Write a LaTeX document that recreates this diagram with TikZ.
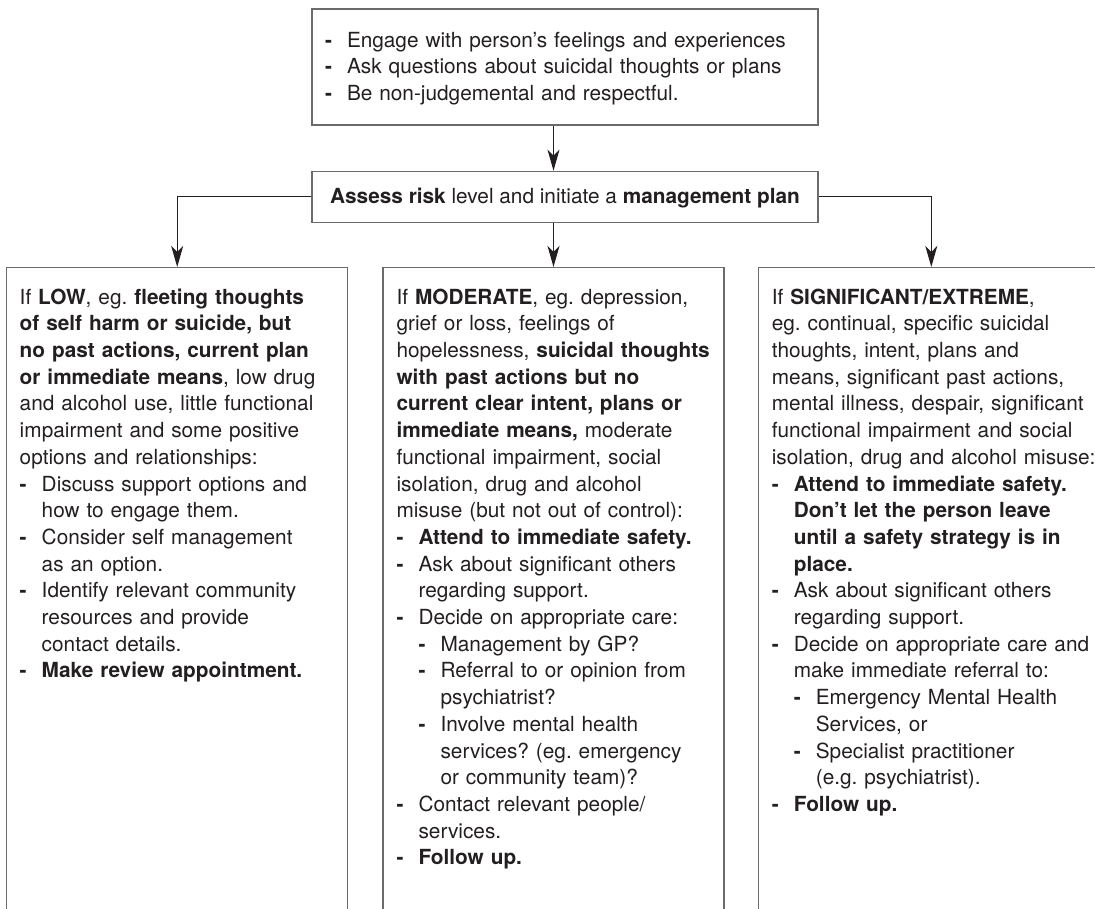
\documentclass[tikz,border=0pt]{standalone}
\usepackage{fontspec}
\setmainfont{TeX Gyre Heros}
\usetikzlibrary{arrows.meta,positioning}
\definecolor{ink}{HTML}{231F20}
\definecolor{rule}{HTML}{6B6B6B}
\newcommand{\itm}{\makebox[22pt][l]{\textbf{-}}}
\newcommand{\ind}{\hspace*{22pt}}
\frenchspacing

\begin{document}
\begin{tikzpicture}[->,>={Stealth[length=21pt,width=12pt,inset=6pt]},x=1pt,y=1pt,
    node distance=44pt,font=\fontsize{20.8}{26.7}\selectfont,text=ink]
        \tikzstyle{box}=[draw=rule,line width=1.3pt,inner sep=0pt]
        \tikzstyle{column}=[box,minimum width=341pt,minimum height=700pt]
        \tikzstyle{blurb}=[text width=420pt,align=left,inner sep=0pt,text height=13pt]
        \tikzstyle{link}=[draw=ink,line width=1.1pt]
        \useasboundingbox (0,0) rectangle (1095,-908);
        \clip (0,0) rectangle (1095,-908);

        \node[box,text width=480pt,inner xsep=13pt,align=left,text height=38pt,text depth=78pt] (top) at (565,-67)
            {\itm Engage with person’s feelings and experiences\\
             \itm Ask questions about suicidal thoughts or plans\\
             \itm Be non-judgemental and respectful.};
        \node[box,minimum width=506pt,minimum height=51pt,text height=17pt,text depth=4pt] (assess) [below=45pt of top]
            {\textbf{Assess risk} level and initiate a \textbf{management plan}};

        \node[column] (mod) [below=of assess,xshift=-11.5pt] {};
        \node[column] (low) [left=34pt of mod] {};
        \node[column,minimum width=346pt] (sig) [right=33pt of mod] {};

        \node[blurb] (lowtext) [below right=24pt and 13.5pt of low.north west]
            {If \textbf{LOW}, eg. \textbf{fleeting thoughts}\\
             \textbf{of self harm or suicide, but}\\
             \textbf{no past actions, current plan}\\
             \textbf{or immediate means}, low drug\\
             and alcohol use, little functional\\
             impairment and some positive\\
             options and relationships:\\
             \itm Discuss support options and\\
             \ind how to engage them.\\
             \itm Consider self management\\
             \ind as an option.\\
             \itm Identify relevant community\\
             \ind resources and provide\\
             \ind contact details.\\
             \itm \textbf{Make review appointment.}};
        \node[blurb] (modtext) [below right=24pt and 14pt of mod.north west]
            {If \textbf{MODERATE}, eg. depression,\\
             grief or loss, feelings of\\
             hopelessness, \textbf{suicidal thoughts}\\
             \textbf{with past actions but no}\\
             \textbf{current clear intent, plans or}\\
             \textbf{immediate means,} moderate\\
             functional impairment, social\\
             isolation, drug and alcohol\\
             misuse (but not out of control):\\
             \itm \textbf{Attend to immediate safety.}\\
             \itm Ask about significant others\\
             \ind regarding support.\\
             \itm Decide on appropriate care:\\
             \ind\itm Management by GP?\\
             \ind\itm Referral to or opinion from\\
             \ind\ind psychiatrist?\\
             \ind\itm Involve mental health\\
             \ind\ind services? (eg. emergency\\
             \ind\ind or community team)?\\
             \itm Contact relevant people/\\
             \ind services.\\
             \itm \textbf{Follow up.}};
        \node[blurb] (sigtext) [below right=24pt and 14pt of sig.north west]
            {If \textbf{SIGNIFICANT/EXTREME},\\
             eg. continual, specific suicidal\\
             thoughts, intent, plans and\\
             means, significant past actions,\\
             mental illness, despair, significant\\
             functional impairment and social\\
             isolation, drug and alcohol misuse:\\
             \itm \textbf{Attend to immediate safety.}\\
             \ind \textbf{Don’t let the person leave}\\
             \ind \textbf{until a safety strategy is in}\\
             \ind \textbf{place.}\\
             \itm Ask about significant others\\
             \ind regarding support.\\
             \itm Decide on appropriate care and\\
             \ind make immediate referral to:\\
             \ind\itm Emergency Mental Health\\
             \ind\ind Services, or\\
             \ind\itm Specialist practitioner\\
             \ind\ind (e.g. psychiatrist).\\
             \itm \textbf{Follow up.}};

        \draw[link] (top.south -| mod) -- (assess.north -| mod);
        \draw[link] (assess.south -| mod) -- (mod.north);
        \draw[link] (assess.west) -| (low.north);
        \draw[link] (assess.east) -| (sig.north);
\end{tikzpicture}
\end{document}
